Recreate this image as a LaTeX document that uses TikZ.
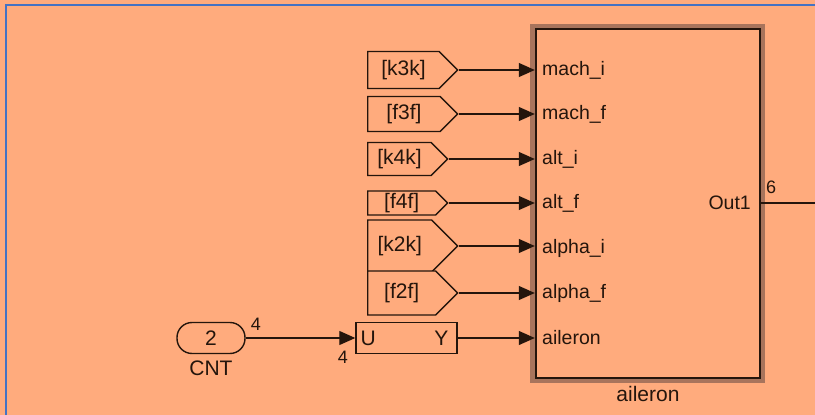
\documentclass[tikz,border=0pt]{standalone}
\usepackage{fontspec}
\setmainfont{Liberation Sans}
\usepackage{xcolor}
\usepackage{tikz}
\usetikzlibrary{arrows.meta,positioning,shapes.symbols}
\definecolor{canvas}{HTML}{FFAB7D}
\definecolor{blkshadow}{HTML}{A8745C}
\definecolor{ink}{HTML}{24150C}
\definecolor{frameblue}{HTML}{4472C4}
\tikzset{
  tag/.style={signal,signal to=east,signal pointer angle=90,draw=ink,fill=canvas,line width=1.4pt,
    inner sep=0pt,anchor=west,font=\fontsize{21}{24}\selectfont,text=ink},
  portlbl/.style={anchor=west,inner sep=0pt,font=\fontsize{19.5}{22}\selectfont,text=ink},
  numlbl/.style={inner sep=0pt,font=\fontsize{18}{21}\selectfont,text=ink},
  wire/.style={-{Triangle[length=16pt,width=14pt]},line width=1.1pt,draw=ink},
  plainwire/.style={line width=1.1pt,draw=ink}
}

\begin{document}
\begin{tikzpicture}[x=1pt,y=-1pt]
\fill[canvas] (0,0) rectangle (815,415);
\useasboundingbox (0,0) rectangle (815,415);
\draw[frameblue,line width=2.2pt] (6,415) -- (6,5) -- (815,5);
% subsystem block
\fill[blkshadow] (530,24) rectangle (765,383);
\node[draw=ink,fill=canvas,line width=2.4pt,minimum width=224pt,minimum height=349pt,inner sep=0pt] (blk) at (648,203.5) {};
\node[below=4pt of blk,font=\fontsize{21}{24}\selectfont,text=ink] (blkname) {aileron};
% from tags
\node[tag,minimum width=90pt,minimum height=37pt] (k3k) at (367,70) {[k3k]\hspace{14pt}};
\node[tag,minimum width=90pt,minimum height=35pt] (f3f) at (367,114) {[f3f]\hspace{14pt}};
\node[tag,minimum width=80pt,minimum height=33pt] (k4k) at (367,159) {[k4k]\hspace{12pt}};
\node[tag,minimum width=80pt,minimum height=24pt] (f4f) at (367,203) {[f4f]\hspace{12pt}};
\node[tag,minimum width=90pt,minimum height=52pt] (k2k) at (367,246) {[k2k]\hspace{14pt}};
\node[tag,minimum width=90pt,minimum height=44pt] (f2f) at (367,293) {[f2f]\hspace{14pt}};
% inport and U/Y block
\node[draw=ink,fill=canvas,line width=1.4pt,rounded corners=15pt,minimum width=68pt,minimum height=31pt,
  inner sep=0pt,font=\fontsize{21}{24}\selectfont,text=ink] (cnt) at (211,338) {2};
\node[below=6pt of cnt,font=\fontsize{21}{24}\selectfont,text=ink,inner sep=0pt] (cntname) {CNT};
\node[draw=ink,fill=canvas,line width=1.4pt,minimum width=101pt,minimum height=31pt,inner sep=0pt] (uy) at (406.5,338) {};
\node[anchor=west,inner sep=0pt,font=\fontsize{21}{24}\selectfont,text=ink] (ulbl) at ([xshift=5pt]uy.west) {U};
\node[anchor=east,inner sep=0pt,font=\fontsize{21}{24}\selectfont,text=ink] (ylbl) at ([xshift=-9pt]uy.east) {Y};
% port labels
\node[portlbl] (p1) at (542,70) {mach\_i};
\node[portlbl] (p2) at (542,114) {mach\_f};
\node[portlbl] (p3) at (542,159) {alt\_i};
\node[portlbl] (p4) at (542,203) {alt\_f};
\node[portlbl] (p5) at (542,248) {alpha\_i};
\node[portlbl] (p6) at (542,293) {alpha\_f};
\node[portlbl] (p7) at (542,338) {aileron};
\node[anchor=east,inner sep=0pt,font=\fontsize{19.5}{22}\selectfont,text=ink] (out1) at (751,203) {Out1};
% wires
\foreach \src in {k3k,f3f,k4k,f4f,k2k,f2f}
  \draw[wire] (\src.east) -- (\src.east -| blk.west);
\draw[wire] (uy.east) -- (uy.east -| blk.west);
\draw[wire] (cnt.east) -- (uy.west);
\coordinate (outend) at (815,203);
\draw[plainwire] (blk.east |- out1) -- (outend);
% signal widths
\node[numlbl] (w1) at (256,324) {4};
\node[numlbl] (w2) at (343,357) {4};
\node[numlbl] (w3) at (771,187) {6};
\end{tikzpicture}
\end{document}
